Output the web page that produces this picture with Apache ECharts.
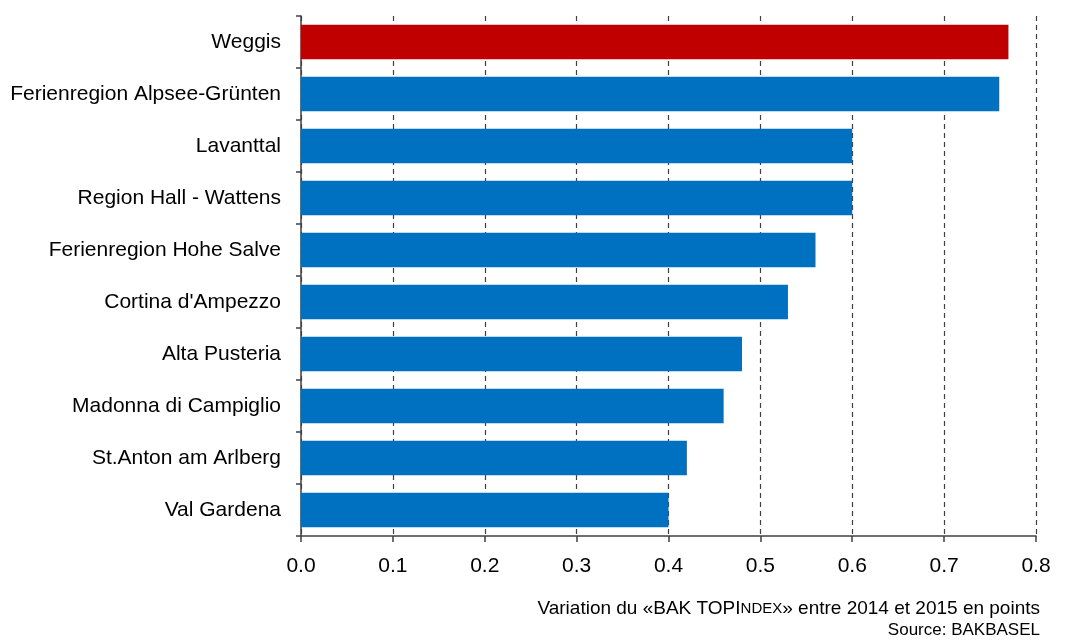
<!DOCTYPE html>
<html><head><meta charset="utf-8">
<script src="https://cdn.jsdelivr.net/npm/echarts@6/dist/echarts.min.js"></script>
<style>html,body{margin:0;padding:0;background:#fff}#c{width:1069px;height:641px}</style>
</head><body><div id="c"></div>
<script>
const categories = ["Weggis","Ferienregion Alpsee-Grünten","Lavanttal","Region Hall - Wattens","Ferienregion Hohe Salve","Cortina d'Ampezzo","Alta Pusteria","Madonna di Campiglio","St.Anton am Arlberg","Val Gardena"];
const values = [0.77,0.76,0.60,0.60,0.56,0.53,0.48,0.46,0.42,0.40];
const highlight = "Weggis";
const xTicks = {min:0, max:0.8, interval:0.1};

const font = "Liberation Sans";
const chart = echarts.init(document.getElementById('c'), null, {renderer:'canvas'});
chart.setOption({
  animation:false,
  grid:{left:301, right:33, top:16, bottom:105, containLabel:false},
  xAxis:{type:'value', min:xTicks.min, max:xTicks.max, interval:xTicks.interval,
    axisLine:{show:true, lineStyle:{color:'#404040', width:1.5}},
    axisTick:{show:true, length:6, lineStyle:{color:'#404040', width:1.5}},
    axisLabel:{color:'#000', fontFamily:font, fontSize:21, margin:20, formatter:v=>v.toFixed(1)},
    splitLine:{show:true, lineStyle:{color:'#404040', type:[5,4], width:1.2}}
  },
  yAxis:{type:'category', data:categories, inverse:true,
    axisLine:{show:true, lineStyle:{color:'#404040', width:1.5}},
    axisTick:{show:true, length:5, lineStyle:{color:'#404040', width:1.5}},
    axisLabel:{color:'#000', fontFamily:font, fontSize:21, margin:20}
  },
  series:[{type:'bar', data:values.map((v,i)=>({value:v, itemStyle:{color: categories[i]===highlight ? '#C00000' : '#0070C0'}})),
    barCategoryGap:'34%'}],
  graphic:[
    {type:'text', right:29, top:599, style:{
      text:'Variation du «BAK TOPI{s|NDEX}» entre 2014 et 2015 en points', rich:{s:{fontSize:15, fontFamily:font, fill:'#000'}},
      font:'19px "Liberation Sans"', fill:'#000', align:'right'}},
    {type:'text', right:29, top:622, style:{text:'Source: BAKBASEL', font:'17px "Liberation Sans"', fill:'#000', align:'right'}}
  ]
});
</script></body></html>
